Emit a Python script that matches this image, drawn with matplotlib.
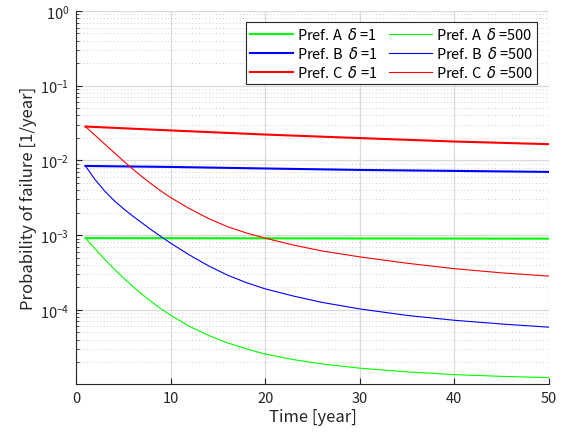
import numpy as np
import matplotlib
matplotlib.use("Agg")
import matplotlib.pyplot as plt
from matplotlib.ticker import LogLocator, NullFormatter, FixedLocator

plt.rcParams['font.family'] = ['Noto Sans CJK JP', 'DejaVu Sans']
plt.rcParams['mathtext.fontset'] = 'dejavusans'

# time axis [year]
t_d1 = [1, 10, 20, 30, 40, 50]
t_d500 = [1, 2, 3, 4, 5, 6, 7, 8, 9, 10, 12, 14, 16, 18, 20, 23, 26, 30, 35, 40, 45, 50]

# delta = 1
pa_d1 = [9.14e-4, 9.11e-4, 9.08e-4, 9.04e-4, 9.01e-4, 8.98e-4]
pb_d1 = [8.43e-3, 8.18e-3, 7.80e-3, 7.46e-3, 7.24e-3, 7.02e-3]
pc_d1 = [2.84e-2, 2.52e-2, 2.22e-2, 1.99e-2, 1.79e-2, 1.65e-2]

# delta = 500
pa_d500 = [9.14e-4, 6.59e-4, 4.80e-4, 3.56e-4, 2.69e-4, 2.06e-4, 1.61e-4, 1.28e-4,
           1.03e-4, 8.49e-5, 6.01e-5, 4.56e-5, 3.62e-5, 3.01e-5, 2.56e-5, 2.16e-5,
           1.89e-5, 1.66e-5, 1.48e-5, 1.36e-5, 1.29e-5, 1.24e-5]
pb_d500 = [8.43e-3, 5.57e-3, 3.94e-3, 2.92e-3, 2.27e-3, 1.80e-3, 1.45e-3, 1.17e-3,
           9.53e-4, 7.83e-4, 5.42e-4, 3.89e-4, 2.92e-4, 2.32e-4, 1.91e-4, 1.53e-4,
           1.26e-4, 1.03e-4, 8.43e-5, 7.26e-5, 6.47e-5, 5.87e-5]
pc_d500 = [2.84e-2, 2.18e-2, 1.67e-2, 1.285e-2, 9.86e-3, 7.66e-3, 6.03e-3, 4.81e-3,
           3.88e-3, 3.19e-3, 2.26e-3, 1.67e-3, 1.30e-3, 1.07e-3, 9.12e-4, 7.36e-4,
           6.15e-4, 5.12e-4, 4.21e-4, 3.56e-4, 3.13e-4, 2.83e-4]

prefs = ['A', 'B', 'C']
colors = ['#00ff00', '#0000ff', '#ff0000']

fig = plt.figure(figsize=(5.65, 4.35), dpi=100)
ax = fig.add_axes([0.1345, 0.115, 0.8372, 0.8575])

lines = []
for name, col, y in zip(prefs, colors, [pa_d1, pb_d1, pc_d1]):
    l, = ax.plot(t_d1, y, color=col, lw=1.5, label=f'Pref. {name}  $\\delta$ =1')
    lines.append(l)
for name, col, y in zip(prefs, colors, [pa_d500, pb_d500, pc_d500]):
    l, = ax.plot(t_d500, y, color=col, lw=0.8, label=f'Pref. {name}  $\\delta$ =500')
    lines.append(l)

ax.set_yscale('log')
ax.set_xlim(0, 50)
ax.set_ylim(1.02e-5, 1)
ax.set_xticks([0, 10, 20, 30, 40, 50])
ax.yaxis.set_major_locator(FixedLocator([1e-4, 1e-3, 1e-2, 1e-1, 1e0]))
ax.yaxis.set_minor_locator(LogLocator(base=10, subs=np.arange(2, 10)))
ax.yaxis.set_minor_formatter(NullFormatter())

ax.grid(True, which='major', color='#d9d9d9', lw=0.9)
ax.grid(True, which='minor', axis='y', color='#cfcfcf', lw=0.7, linestyle=(0, (1, 2.5)))
ax.set_axisbelow(True)

for s in ['top', 'right']:
    ax.spines[s].set_visible(False)
for s in ['left', 'bottom']:
    ax.spines[s].set_color('#262626')
    ax.spines[s].set_linewidth(0.8)

ax.tick_params(which='both', direction='in', colors='#262626', labelsize=10.5, pad=5)
ax.tick_params(which='major', length=4)
ax.tick_params(which='minor', length=2.5)

ax.set_xlabel('Time [year]', fontsize=12, color='#262626', labelpad=2)
ax.set_ylabel('Probability of failure [1/year]', fontsize=12, color='#262626', labelpad=2)

leg = ax.legend(handles=lines, ncol=2, loc='upper right', bbox_to_anchor=(0.975, 0.97),
                borderaxespad=0, fontsize=10.5, frameon=True, fancybox=False,
                edgecolor='#262626', framealpha=1,
                handlelength=3.0, handletextpad=0.25, columnspacing=0.75,
                labelspacing=0.2, borderpad=0.28)
leg.get_frame().set_linewidth(0.8)

fig.savefig('out.png', dpi=100)
